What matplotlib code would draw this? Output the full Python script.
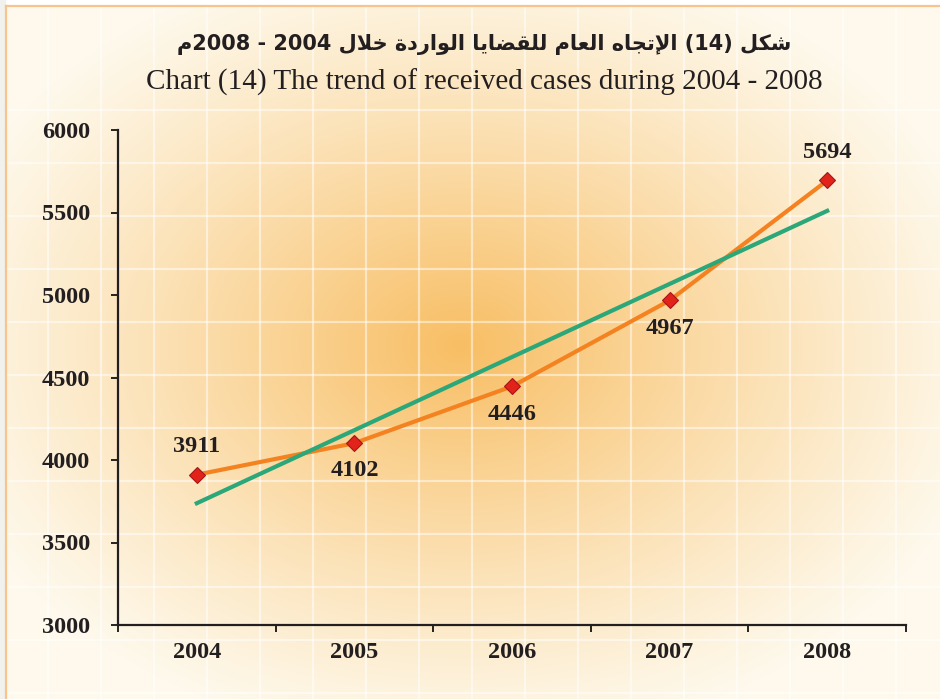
import numpy as np
import matplotlib
matplotlib.use("Agg")
import matplotlib.pyplot as plt

years = ["2004", "2005", "2006", "2007", "2008"]
cases = [3911, 4102, 4446, 4967, 5694]
trend = [3738, 4181, 4624, 5067, 5510]
label_offsets = [20, -20, -20, -20, 20]
yticks = [3000, 3500, 4000, 4500, 5000, 5500, 6000]

# arabic title written in shaped presentation forms, visual (left to right) order
title_ar = ("\uFEE1" + "2008 - 2004 "
            + "\uFEDD\uFEFC\uFEA7 "
            + "\uFE93\uFEA9\uFEAD\uFE8D\uFEEE\uFEDF\uFE8D "
            + "\uFE8E\uFEF3\uFE8E\uFEC0\uFED8\uFEE0\uFEDF "
            + "\uFEE1\uFE8E\uFECC\uFEDF\uFE8D "
            + "\uFEE9\uFE8E\uFEA0\uFE97\uFEF9\uFE8D "
            + "(14) \uFEDE\uFEDC\uFEB7")
title_en = "Chart (14) The trend of received cases during 2004 - 2008"

W, H = 940, 699
fig = plt.figure(figsize=(W / 100, H / 100), dpi=100)

# background: cream with soft orange glow and white grid
bg = fig.add_axes([0, 0, 1, 1])
yy, xx = np.mgrid[0:H, 0:W]
d = np.sqrt(((xx - 460) / 540.0) ** 2 + ((yy - 345) / 400.0) ** 2)
t = np.clip(1 - d, 0, 1) ** 1.1
cream = np.array([254, 249, 236]) / 255
orange = np.array([248, 190, 100]) / 255
img = cream * (1 - t[..., None]) + orange * t[..., None]
bg.imshow(img, extent=(0, W, H, 0), aspect="auto", interpolation="bilinear")
for gx in np.arange(48, W, 53):
    bg.plot([gx, gx], [6, H], color="white", lw=1.6, alpha=0.5)
for gy in np.arange(110, H, 53):
    bg.plot([6, W], [gy, gy], color="white", lw=1.6, alpha=0.5)
bg.fill_between([0, W], 0, 5, color="white")
bg.fill_between([0, 5], 0, H, color="#F1F1EE")
bg.plot([5.5, W], [5.5, 5.5], color="#F8C48C", lw=1.6)
bg.plot([5.5, 5.5], [5.5, H], color="#F8C48C", lw=1.6)
bg.set_xlim(0, W)
bg.set_ylim(H, 0)
bg.axis("off")

fig.text(0.515, 0.936, title_ar, ha="center", va="center", fontsize=15,
         fontweight="bold", family=["DejaVu Sans"], color="#231F20")
fig.text(0.515, 0.882, title_en, ha="center", va="center", fontsize=21,
         family="Liberation Serif", color="#231F20")

ax = fig.add_axes([118 / W, 1 - 625 / H, (906 - 118) / W, (625 - 130) / H])
ax.patch.set_alpha(0)
x = np.arange(len(years))
ax.plot(x, cases, color="#F58220", lw=3, zorder=3)
ax.plot(x, trend, color="#2BA779", lw=3, zorder=4)
ax.plot(x, cases, ls="none", marker="D", ms=8.5, color="#E2231A",
        mec="#A3161B", mew=0.8, zorder=5)
for xi, v, off in zip(x, cases, label_offsets):
    ax.annotate(str(v), (xi, v), xytext=(0, off), textcoords="offset points",
                ha="center", va="center", fontsize=17.5, fontweight="bold",
                family="Liberation Serif", color="#231F20", zorder=6)

ax.set_xlim(-0.5, 4.5)
ax.set_ylim(3000, 6000)
ax.set_yticks(yticks)
ax.set_yticklabels([str(v) for v in yticks])
ax.set_xticks(x)
ax.set_xticklabels(years)
ax.set_xticks(np.arange(-0.5, 5, 1), minor=True)
ax.tick_params(axis="x", which="major", length=0, pad=12)
ax.tick_params(axis="x", which="minor", length=5, width=1.2, direction="out")
ax.tick_params(axis="y", length=5, width=1.2, direction="out", pad=15)
for lab in ax.get_xticklabels() + ax.get_yticklabels():
    lab.set_family("Liberation Serif")
    lab.set_fontweight("bold")
    lab.set_fontsize(17.5)
    lab.set_color("#231F20")
for s in ["top", "right"]:
    ax.spines[s].set_visible(False)
for s in ["left", "bottom"]:
    ax.spines[s].set_linewidth(1.6)
    ax.spines[s].set_color("#231F20")

fig.savefig("out.png", dpi=100)
